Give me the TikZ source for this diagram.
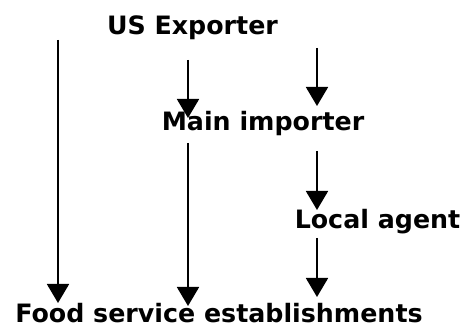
\documentclass[tikz,border=0pt]{standalone}
\usepackage{fontspec}
\setmainfont{DejaVu Sans}
\usetikzlibrary{arrows.meta}
\begin{document}
\begin{tikzpicture}[x=1pt,y=-1pt,
  lbl/.style={font=\fontsize{25.3}{28}\selectfont\bfseries, inner sep=0pt, anchor=base},
  arr/.style={line width=1.9pt, -{Triangle[width=22pt,length=19pt]}}]
\useasboundingbox (0,0) rectangle (467,329);
\node[lbl] (us) at (192.5,35) {US Exporter};
\node[lbl] (main) at (263,130.5) {Main importer};
\node[lbl] (local) at (377.5,228.5) {Local agent};
\node[lbl] (food) at (219,323) {Food service establishments};
% arrow start/end points
\coordinate (a1s) at (58,40);  \coordinate (a1e) at (58,303);
\coordinate (a2s) at (188,60); \coordinate (a2e) at (188,118);
\coordinate (a3s) at (317,48); \coordinate (a3e) at (317,106);
\coordinate (a4s) at (188,143); \coordinate (a4e) at (188,306);
\coordinate (a5s) at (317,151); \coordinate (a5e) at (317,210);
\coordinate (a6s) at (317,238); \coordinate (a6e) at (317,297);
\draw[arr] (a1s) -- (a1e);
\draw[arr] (a2s) -- (a2e);
\draw[arr] (a3s) -- (a3e);
\draw[arr] (a4s) -- (a4e);
\draw[arr] (a5s) -- (a5e);
\draw[arr] (a6s) -- (a6e);
\end{tikzpicture}
\end{document}
